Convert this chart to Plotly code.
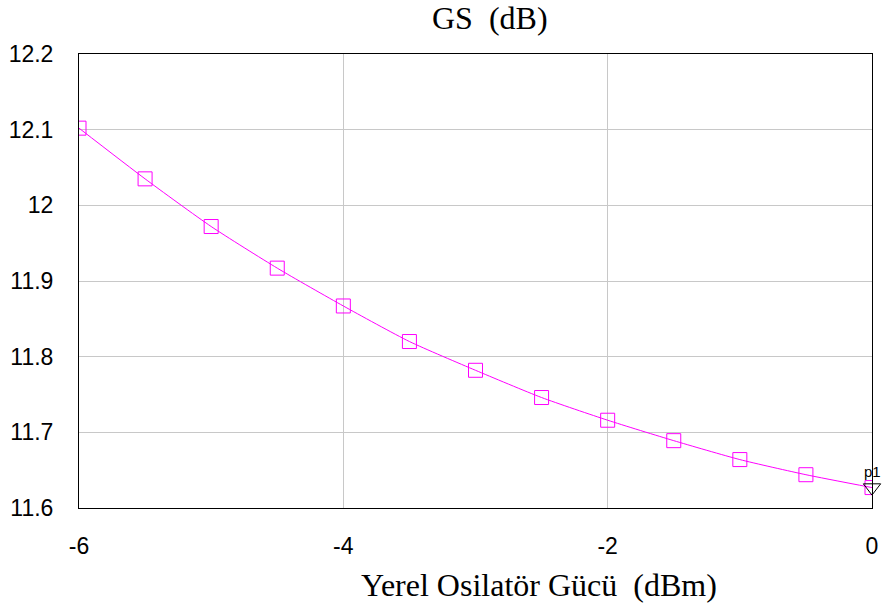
import plotly.graph_objects as go

x_dbm = [-6, -5.5, -5, -4.5, -4, -3.5, -3, -2.5, -2, -1.5, -1, -0.5, 0]
gs_db = [12.102, 12.035, 11.972, 11.917, 11.867, 11.820, 11.782, 11.746, 11.716, 11.689, 11.664, 11.644, 11.627]
marker_label = "p1"

fig = go.Figure()
fig.add_trace(go.Scatter(
    x=x_dbm, y=gs_db, mode="lines+markers",
    line=dict(color="#ff00ff", width=1, shape="spline", smoothing=0.6),
    marker=dict(symbol="square-open", size=14, color="#ff00ff", line=dict(width=1)),
    showlegend=False, cliponaxis=True,
))
fig.add_trace(go.Scatter(
    x=[x_dbm[-1]], y=[gs_db[-1]], mode="markers",
    marker=dict(symbol="triangle-down-open", size=15, color="black", line=dict(width=1)),
    showlegend=False, cliponaxis=False,
))
fig.add_annotation(x=x_dbm[-1], y=gs_db[-1], text=marker_label, showarrow=False,
                   yshift=16, xshift=0, font=dict(family="Liberation Sans", size=15, color="black"))

fig.update_layout(
    width=883, height=612,
    margin=dict(l=79, r=11, t=54, b=104, autoexpand=False),
    plot_bgcolor="white", paper_bgcolor="white",
    font=dict(family="Liberation Sans", size=23, color="black"),
)
fig.update_xaxes(range=[-6, 0], tickvals=[-6, -4, -2, 0], ticktext=["-6", "-4", "-2", "0"],
                 showgrid=True, gridcolor="#c8c8c8", gridwidth=1,
                 showline=True, linecolor="black", linewidth=1, mirror=True,
                 zeroline=False, ticks="", ticklabelstandoff=17, automargin=False)
fig.update_yaxes(range=[11.6, 12.2], tickvals=[11.6, 11.7, 11.8, 11.9, 12.0, 12.1, 12.2],
                 ticktext=["11.6", "11.7", "11.8", "11.9", "12", "12.1", "12.2"],
                 showgrid=True, gridcolor="#c8c8c8", gridwidth=1,
                 showline=True, linecolor="black", linewidth=1, mirror=True,
                 zeroline=False, ticks="", ticklabelstandoff=20, automargin=False)

fig.add_annotation(xref="paper", yref="paper", x=(489.5 - 79) / 793, y=1 + (54 - 18) / 454,
                   xanchor="center", yanchor="middle", text="GS  (dB)",
                   showarrow=False, font=dict(family="Liberation Serif", size=32))
fig.add_annotation(xref="paper", yref="paper", x=(539 - 79) / 793, y=-(585 - 508) / 454,
                   xanchor="center", yanchor="middle", text="Yerel Osilatör Gücü  (dBm)",
                   showarrow=False, font=dict(family="Liberation Serif", size=32))

fig.write_html("out.html")
